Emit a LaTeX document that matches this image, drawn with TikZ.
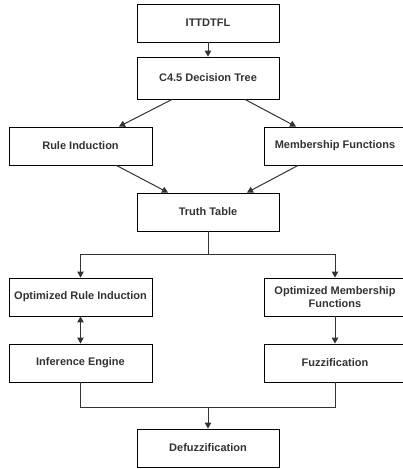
\documentclass[tikz,border=0pt]{standalone}
\usepackage{fontspec}
\setmainfont{Liberation Sans}
\usetikzlibrary{arrows.meta,calc}
\begin{document}
\begin{tikzpicture}[x=1pt,y=-1pt,
  box/.style={draw=black,line width=0.9pt,fill=white,minimum height=38pt,inner sep=1pt,
    align=center,font=\fontsize{11}{12.5}\selectfont\bfseries,text=black!80},
  wbox/.style={box,minimum width=143pt},
  rbox/.style={box,minimum width=142pt},
  conn/.style={draw=black!80,line width=1pt,-{Triangle[width=6.5pt,length=6pt]}},
  dconn/.style={draw=black!80,line width=1pt,{Triangle[width=6.5pt,length=6pt]}-{Triangle[width=6.5pt,length=6pt]}},
  plain/.style={draw=black!80,line width=1pt}]
\useasboundingbox (0,0) rectangle (403,469);
\node[rbox] (top) at (208,23) {ITTDTFL};
\node[rbox,minimum height=42pt] (c45) at (208,78) {C4.5 Decision Tree};
\node[wbox] (ri) at (80.5,146) {Rule Induction};
\node[rbox] (mf) at (335,146) {Membership Functions};
\node[rbox] (tt) at (208,212) {Truth Table};
\node[wbox] (ori) at (80.5,297) {Optimized Rule Induction};
\node[rbox] (omf) at (335,297) {Optimized Membership\\Functions};
\node[wbox] (ie) at (80.5,363) {Inference Engine};
\node[rbox] (fz) at (335,363) {Fuzzification};
\node[rbox] (df) at (208,448) {Defuzzification};
\coordinate (j1) at (208,254.5);
\coordinate (j2) at (208,407.5);
\draw[conn] (top) -- (c45);
\draw[conn] ($(c45.south)+(-36,0)$) -- ($(ri.north)+(38.5,0)$);
\draw[conn] ($(c45.south)+(37,0)$) -- ($(mf.north)+(-39,0)$);
\draw[conn] ($(ri.south)+(36,0)$) -- ($(tt.north)+(-40,0)$);
\draw[conn] ($(mf.south)+(-37,0)$) -- ($(tt.north)+(39,0)$);
\draw[plain] (tt.south) -- (j1);
\draw[conn] (j1) -| (ori.north);
\draw[conn] (j1) -| (omf.north);
\draw[dconn] (ori) -- (ie);
\draw[conn] (omf) -- (fz);
\draw[plain] (ie.south) |- (j2) -| (fz.south);
\draw[conn] (j2) -- (df);
\end{tikzpicture}
\end{document}
